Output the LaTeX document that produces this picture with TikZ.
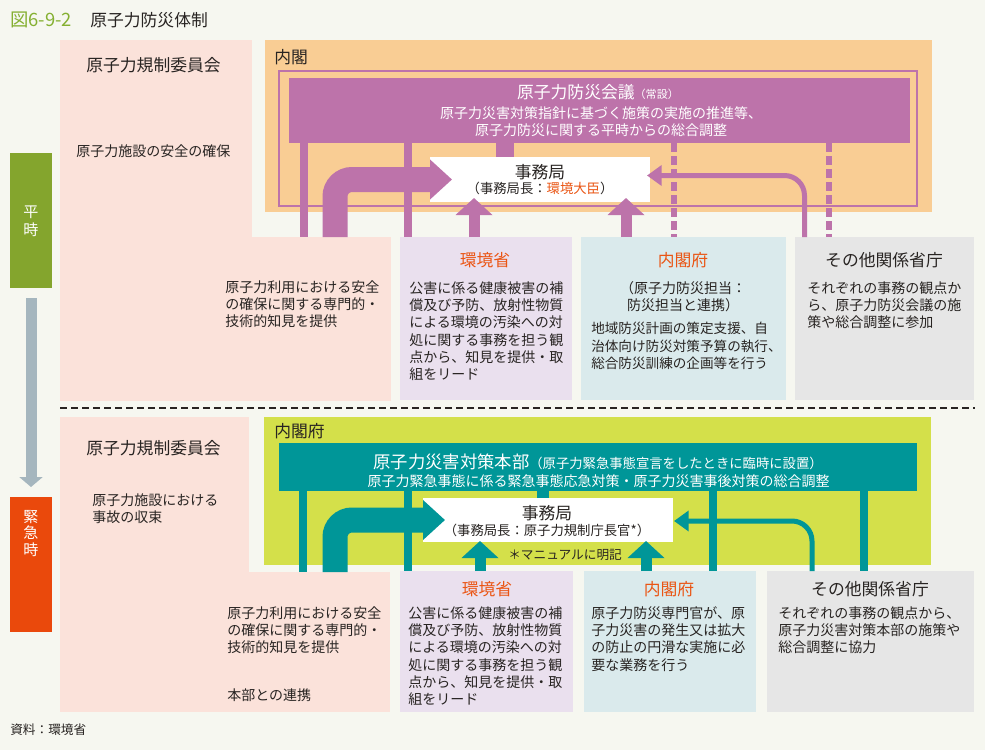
\documentclass[tikz,border=0pt]{standalone}
\usepackage{fontspec}
\setmainfont{Noto Sans CJK JP}
\usetikzlibrary{arrows.meta,fit,calc}
\definecolor{Bg}{RGB}{246,247,240}
\definecolor{Ink}{RGB}{40,36,34}
\definecolor{Leaf}{RGB}{133,176,50}
\definecolor{Rose}{RGB}{251,226,218}
\definecolor{Peach}{RGB}{249,205,148}
\definecolor{Plum}{RGB}{189,115,170}
\definecolor{Lilac}{RGB}{234,224,238}
\definecolor{Mist}{RGB}{218,234,236}
\definecolor{Ash}{RGB}{230,230,230}
\definecolor{Moss}{RGB}{132,165,45}
\definecolor{Steel}{RGB}{165,182,190}
\definecolor{Flame}{RGB}{234,73,12}
\definecolor{Lime}{RGB}{212,224,74}
\definecolor{Sea}{RGB}{0,150,152}
\definecolor{Tang}{RGB}{234,85,20}

\begin{document}
\begin{tikzpicture}[x=0.75pt,y=-0.75pt,
 box/.style={inner sep=0,outer sep=0,draw=none},
 hd/.style={inner sep=0,text=Ink,font=\fontsize{12.6}{15}\selectfont},
 tx/.style={inner sep=0,text=Ink,align=left,anchor=north west,font=\fontsize{10.5}{13}\selectfont},
 sm/.style={inner sep=0,text=Ink,font=\fontsize{9.5}{11}\selectfont},
 bar/.style={line width=6.5pt},
 big/.style={line width=18.75pt,rounded corners=12.75pt,-{Triangle[length=16.5pt,width=29pt]}},
 up/.style={line width=8.25pt,-{Triangle[length=12.75pt,width=27pt]}},
 thin/.style={line width=3.75pt,rounded corners=15pt,-{Triangle[length=11pt,width=15pt]}},
 dsh/.style={line width=4.5pt,dash pattern=on 6.75pt off 3pt}]
\useasboundingbox[fill=Bg] (0,0) rectangle (985,750);
\node[inner sep=0,text=Leaf,anchor=west,font=\fontsize{13.8}{16}\selectfont] (fig) at (10,20) {図6-9-2};
\node[hd,anchor=west] (figT) at (90,20) {原子力防災体制};

% left column
\node[box,fill=Moss,fit={(10,153)(52,288)}] (heiji) {};
\node[box,fill=Flame,fit={(10,497)(52,632)}] (kinkyu) {};
\node[inner sep=0,text=white,align=center,font=\fontsize{11.3}{13.5}\selectfont] (heijiT) at (31,221) {平\\時};
\node[inner sep=0,text=white,align=center,font=\fontsize{11.3}{12.4}\selectfont] (kinkyuT) at (31,533.5) {緊\\急\\時};
\draw[Steel,line width=8.25pt,-{Triangle[length=7.5pt,width=17.25pt]}] ($(heiji.south)+(0,10)$) -- ($(kinkyu.north)+(0,-10)$);

% normal time
\node[box,fill=Rose,fit={(60,40)(252,238)}] (nraT) {};
\node[box,fill=Rose,fit={(60,237)(391,401)}] (nraL) {};
\node[box,fill=Peach,fit={(265,40)(932,212)}] (cab) {};
\node[box,draw=Plum,line width=1.9pt,fit={(279,71)(917,206)}] (cabIn) {};
\node[box,fill=Plum,fit={(289,78)(910,143)}] (council) {};
\node[box,fill=white,fit={(430,157)(650,202)}] (jim) {};
\node[box,fill=Lilac,fit={(400,237)(572,400)}] (kanT) {};
\node[box,fill=Mist,fit={(581,237)(786,400)}] (naiT) {};
\node[box,fill=Ash,fit={(795,237)(974,400)}] (othT) {};

\draw[bar,Plum] (council.south -| 304,0) -- (nraL.north -| 304,0);
\draw[bar,Plum] (council.south -| 408,0) -- (kanT.north -| 408,0);
\draw[Plum,line width=13.5pt] (council.south -| 505,0) -- (jim.north -| 505,0);
\draw[big,Plum] (nraL.north -| 335,0) |- ($(jim.west)+(22,0)$);
\draw[up,Plum] (kanT.north -| 474,0) -- ($(jim.south -| 474,0)+(0,-4)$);
\draw[up,Plum] (naiT.north -| 626,0) -- ($(jim.south -| 626,0)+(0,-4)$);
\draw[dsh,Plum] (council.south -| 673.5,0) -- (naiT.north -| 673.5,0);
\draw[dsh,Plum] (council.south -| 828.5,0) -- (othT.north -| 828.5,0);
\draw[thin,Plum] (othT.north -| 804.5,0) |- ($(jim.east)+(-3,-4)$);

\node[hd] (nraTt) at (153.5,65) {原子力規制委員会};
\node[tx,anchor=west] (nraTs) at (76,151) {原子力施設の安全の確保};
\node[tx] (nraLs) at (225,280) {原子力利用における安全\\の確保に関する専門的・\\技術的知見を提供};
\node[hd,anchor=west] (cabT) at (274,57) {内閣};
\node[hd,text=white] (councilT) at (598,92) {原子力防災会議{\fontsize{8.3}{10}\selectfont（常設）}};
\node[tx,text=white,align=center,anchor=north] (councilS) at (601,106) {原子力災害対策指針に基づく施策の実施の推進等、\\原子力防災に関する平時からの総合調整};
\node[hd] (jimT) at (540,172) {事務局};
\node[inner sep=0,text=Ink,font=\fontsize{10}{12}\selectfont] (jimS) at (540,188) {（事務局長：\textcolor{Tang}{環境大臣}）};
\node[hd,text=Tang] (kanTt) at (485,260) {環境省};
\node[tx] (kanTs) at (409,281) {公害に係る健康被害の補\\償及び予防、放射性物質\\による環境の汚染への対\\処に関する事務を担う観\\点から、知見を提供・取\\組をリード};
\node[hd,text=Tang] (naiTt) at (683,260) {内閣府};
\node[tx,align=center,anchor=north] (naiTs) at (683,281) {（原子力防災担当：\\防災担当と連携）};
\node[tx,font=\fontsize{10.2}{13}\selectfont] (naiTd) at (591,322) {地域防災計画の策定支援、自\\治体向け防災対策予算の執行、\\総合防災訓練の企画等を行う};
\node[hd] (othTt) at (884,260) {その他関係省庁};
\node[tx] (othTs) at (807,281) {それぞれの事務の観点か\\ら、原子力防災会議の施\\策や総合調整に参加};

\draw[Ink,line width=2pt,dash pattern=on 5.25pt off 3pt] (60,408) -- (975,408);

% emergency
\node[box,fill=Rose,fit={(60,417)(249,573)}] (nraB) {};
\node[box,fill=Rose,fit={(60,572)(390,712)}] (nraB2) {};
\node[box,fill=Lime,fit={(264,417)(931,565)}] (cab2) {};
\node[box,fill=Sea,fit={(279,443)(917,491)}] (honbu) {};
\node[box,fill=white,fit={(423,498)(673,542)}] (jim2) {};
\node[box,fill=Lilac,fit={(400,571)(573,712)}] (kanB) {};
\node[box,fill=Mist,fit={(584,571)(756,712)}] (naiB) {};
\node[box,fill=Ash,fit={(767,571)(974,712)}] (othB) {};

\draw[bar,Sea] (honbu.south -| 303,0) -- (nraB2.north -| 303,0);
\draw[bar,Sea] (honbu.south -| 408,0) -- (kanB.north -| 408,0);
\draw[bar,Sea] (honbu.south -| 713,0) -- (naiB.north -| 713,0);
\draw[bar,Sea] (honbu.south -| 864,0) -- (othB.north -| 864,0);
\draw[Sea,line width=9pt] (honbu.south -| 543,0) -- (jim2.north -| 543,0);
\draw[big,Sea] (nraB2.north -| 335,0) |- ($(jim2.west)+(22,0)$);
\draw[up,Sea] (kanB.north -| 480,0) -- ($(jim2.south -| 480,0)+(0,-1)$);
\draw[up,Sea] (naiB.north -| 646,0) -- ($(jim2.south -| 646,0)+(0,-1)$);
\draw[thin,Sea] (othB.north -| 812,0) |- ($(jim2.east)+(1,1)$);

\node[hd] (nraBt) at (153.5,448) {原子力規制委員会};
\node[tx] (nraBs) at (92,493) {原子力施設における\\事故の収束};
\node[tx] (nraB2s) at (227,606) {原子力利用における安全\\の確保に関する専門的・\\技術的知見を提供};
\node[tx,anchor=west] (nraB2r) at (227,695) {本部との連携};
\node[hd,anchor=west] (cab2T) at (274,431) {内閣府};
\node[inner sep=0,text=white] (honbuT) at (598,462) {{\fontsize{13}{15}\selectfont 原子力災害対策本部}{\fontsize{10}{12}\selectfont（原子力緊急事態宣言をしたときに臨時に設置）}};
\node[tx,text=white,anchor=center] (honbuS) at (598.5,481) {原子力緊急事態に係る緊急事態応急対策・原子力災害事後対策の総合調整};
\node[hd] (jim2T) at (547,513) {事務局};
\node[inner sep=0,text=Ink,font=\fontsize{10}{12}\selectfont] (jim2S) at (547,530) {（事務局長：原子力規制庁長官*）};
\node[sm,anchor=west] (note) at (508,555) {＊マニュアルに明記};
\node[hd,text=Tang] (kanBt) at (487,589) {環境省};
\node[tx] (kanBs) at (408,606) {公害に係る健康被害の補\\償及び予防、放射性物質\\による環境の汚染への対\\処に関する事務を担う観\\点から、知見を提供・取\\組をリード};
\node[hd,text=Tang] (naiBt) at (669,589) {内閣府};
\node[tx] (naiBs) at (591,606) {原子力防災専門官が、原\\子力災害の発生又は拡大\\の防止の円滑な実施に必\\要な業務を行う};
\node[hd] (othBt) at (870,589) {その他関係省庁};
\node[tx] (othBs) at (778,606) {それぞれの事務の観点から、\\原子力災害対策本部の施策や\\総合調整に協力};

\node[sm,anchor=west] (src) at (10,730) {資料：環境省};
\end{tikzpicture}
\end{document}
